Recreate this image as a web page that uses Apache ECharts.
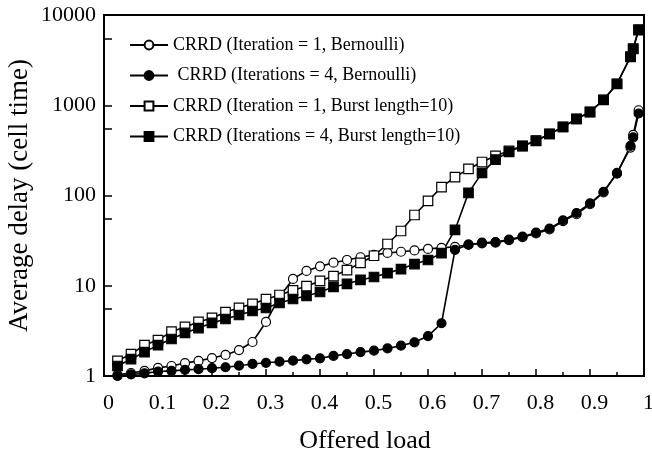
<!DOCTYPE html>
<html>
<head>
<meta charset="utf-8">
<script src="https://cdn.jsdelivr.net/npm/echarts@6/dist/echarts.min.js"></script>
<style>html,body{margin:0;padding:0;background:#fff;}#c{width:652px;height:454px;}</style>
</head>
<body>
<div id="c"></div>
<script>
// ---- data ----
const loads = [0.025,0.05,0.075,0.1,0.125,0.15,0.175,0.2,0.225,0.25,0.275,0.3,0.325,0.35,0.375,0.4,0.425,0.45,0.475,0.5,0.525,0.55,0.575,0.6,0.625,0.65,0.675,0.7,0.725,0.75,0.775,0.8,0.825,0.85,0.875,0.9,0.925,0.95,0.975,0.98,0.99];
const it1Bernoulli = [1.03,1.08,1.14,1.23,1.29,1.39,1.47,1.58,1.71,1.94,2.38,3.97,7.5,11.9,14.6,16.4,18.0,19.3,20.7,22.0,23.1,23.8,24.6,25.6,26.3,27.0,28.5,29.5,30.0,32.0,34.5,38.0,42.0,52.0,62.0,80.0,108,178,340,470,880];
const it4Bernoulli = [1.0,1.04,1.07,1.12,1.14,1.17,1.19,1.22,1.25,1.3,1.36,1.40,1.44,1.48,1.53,1.57,1.67,1.75,1.84,1.91,2.02,2.17,2.36,2.77,3.84,25.0,28.5,30.0,30.5,32.5,35.0,38.8,43.0,53.0,64.0,82.0,110,175,355,440,810];
const it1Burst = [1.47,1.75,2.2,2.5,3.1,3.5,3.97,4.4,5.1,5.7,6.3,7.1,7.9,8.9,9.9,11.3,12.8,14.9,17.9,21.5,29.0,40.4,60.8,87.0,124,160,197,235,275,312,355,405,482,576,706,845,1150,1730,3450,4250,6900];
const it4Burst = [1.29,1.54,1.84,2.2,2.57,3.0,3.4,3.87,4.28,4.74,5.25,5.67,6.44,7.13,7.7,8.53,9.7,10.5,11.6,12.5,13.8,15.3,17.4,19.3,23.0,41.5,107,178,250,305,353,402,480,574,704,841,1143,1720,3425,4200,6800];
const seriesNames = ['CRRD (Iteration = 1, Bernoulli)',' CRRD (Iterations = 4, Bernoulli)','CRRD (Iteration = 1, Burst length=10)','CRRD (Iterations = 4, Burst length=10)'];
const xTickLabels = ['0','0.1','0.2','0.3','0.4','0.5','0.6','0.7','0.8','0.9','1'];
const yTickLabels = ['1','10','100','1000','10000'];
const xTitle = 'Offered load';
const yTitle = 'Average delay (cell time)';

// ---- chart ----
const FONT = 'Liberation Serif';
function pairs(ys){ return loads.map((x,i)=>[x, ys[i]]); }
function mk(name, ys, symbol, filled, size){
  return {
    name: name, type: 'line', data: pairs(ys),
    symbol: symbol, symbolSize: size, showSymbol: true,
    lineStyle: {color:'#000', width: 1.6},
    itemStyle: {color: filled ? '#000' : '#fff', borderColor:'#000', borderWidth: 1.2},
    emphasis: {disabled: true}, animation: false, clip: false
  };
}
const chart = echarts.init(document.getElementById('c'), null, {renderer:'canvas'});
chart.setOption({
  animation: false,
  backgroundColor: '#fff',
  grid: {left: 104, right: 8, top: 15, bottom: 78, containLabel: false, outerBoundsMode: 'none',
    show: true, borderColor: '#000', borderWidth: 2, backgroundColor: 'transparent'},
  legend: {
    orient: 'vertical', left: 129, top: 35, padding: 0, itemWidth: 38, itemHeight: 11, itemGap: 10.5,
    textStyle: {fontFamily: FONT, fontSize: 18, color: '#000', lineHeight: 20},
    data: seriesNames, selectedMode: false
  },
  xAxis: {
    type: 'value', min: 0, max: 1, interval: 0.1,
    name: xTitle, nameLocation: 'middle', nameGap: 52, nameMoveOverlap: false,
    nameTextStyle: {fontFamily: FONT, fontSize: 26, color: '#000', padding: [0, 18, 0, 0]},
    axisLine: {show: true, lineStyle: {color:'#000', width: 2}},
    axisTick: {show: true, inside: true, length: 7, lineStyle: {color:'#000', width: 1.5}},
    minorTick: {show: true, splitNumber: 2, length: 4, lineStyle: {color:'#000', width: 1.5}},
    splitLine: {show: false},
    axisLabel: {fontFamily: FONT, fontSize: 22, color: '#000', margin: 16, padding: [0,0,0,9],
      formatter: v => xTickLabels[Math.round(v*10)]}
  },
  yAxis: {
    type: 'log', logBase: 10, min: 1, max: 10000,
    name: yTitle, nameLocation: 'middle', nameGap: 71, nameMoveOverlap: false,
    nameTextStyle: {fontFamily: FONT, fontSize: 27, color: '#000'},
    axisLine: {show: true, lineStyle: {color:'#000', width: 2}},
    axisTick: {show: true, inside: true, length: 8, lineStyle: {color:'#000', width: 1.5}},
    minorTick: {show: true, splitNumber: 2, length: 8, lineStyle: {color:'#000', width: 1.5}},
    splitLine: {show: false},
    axisLabel: {fontFamily: FONT, fontSize: 22, color: '#000', margin: 8,
      formatter: v => yTickLabels[Math.round(Math.log10(v))]}
  },
  series: [
    mk(seriesNames[0], it1Bernoulli, 'circle', false, 9),
    mk(seriesNames[1], it4Bernoulli, 'circle', true, 9),
    mk(seriesNames[2], it1Burst, 'rect', false, 9.5),
    mk(seriesNames[3], it4Burst, 'rect', true, 9.5)
  ]
});
</script>
</body>
</html>
